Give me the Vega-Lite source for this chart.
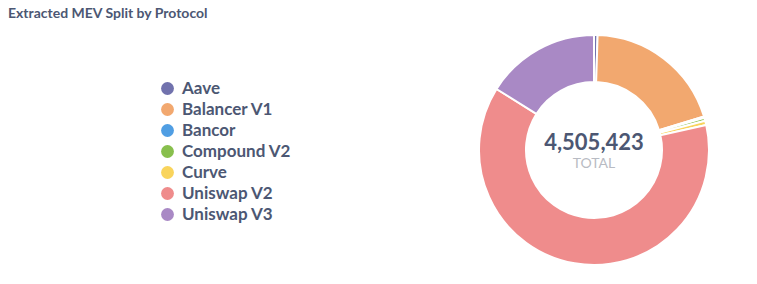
{
  "$schema": "https://vega.github.io/schema/vega-lite/v6.json",
  "width": 326,
  "height": 240,
  "autosize": {"type": "none"},
  "padding": {"left": 431, "top": 30, "right": 0, "bottom": 0},
  "background": "white",
  "config": {"view": {"stroke": null}, "font": "Lato"},
  "title": {
    "text": "Extracted MEV Split by Protocol",
    "anchor": "start",
    "frame": "group",
    "dx": -423,
    "offset": 9,
    "fontSize": 14,
    "font": "Lato",
    "fontWeight": "bold",
    "color": "#4C5773"
  },
  "data": {
    "values": [
      {"protocol": "Aave", "value": 22527},
      {"protocol": "Balancer V1", "value": 892074},
      {"protocol": "Bancor", "value": 9000},
      {"protocol": "Compound V2", "value": 18000},
      {"protocol": "Curve", "value": 27000},
      {"protocol": "Uniswap V2", "value": 2811448},
      {"protocol": "Uniswap V3", "value": 725374}
    ]
  },
  "layer": [
    {
      "mark": {"type": "arc", "innerRadius": 68, "outerRadius": 115, "stroke": "white", "strokeWidth": 2},
      "encoding": {
        "theta": {"field": "value", "type": "quantitative", "stack": true},
        "order": {"field": "protocol", "sort": "ascending"},
        "color": {
          "field": "protocol",
          "type": "nominal",
          "scale": {
            "domain": ["Aave", "Balancer V1", "Bancor", "Compound V2", "Curve", "Uniswap V2", "Uniswap V3"],
            "range": ["#7172AD", "#F2A86F", "#509EE3", "#88BF4D", "#F9D45C", "#EF8C8C", "#A989C5"]
          },
          "legend": {
            "orient": "none",
            "legendX": -272,
            "legendY": 50,
            "title": null,
            "labelFontSize": 17,
            "labelFont": "Lato",
            "labelFontWeight": "bold",
            "labelColor": "#4C5773",
            "symbolType": "circle",
            "symbolSize": 165,
            "symbolStrokeWidth": 0,
            "symbolOpacity": 1,
            "rowPadding": 3,
            "labelOffset": 6,
            "padding": 0
          }
        }
      }
    },
    {
      "mark": {"type": "text", "font": "Lato", "fontSize": 22, "fontWeight": "bold", "color": "#4C5773", "baseline": "middle", "align": "center", "dy": -7},
      "encoding": {
        "text": {"aggregate": "sum", "field": "value", "type": "quantitative", "format": ","}
      }
    },
    {
      "data": {"values": [{"label": "TOTAL"}]},
      "mark": {"type": "text", "font": "Lato", "fontSize": 14, "fontWeight": "normal", "color": "#B8BBC3", "baseline": "middle", "align": "center", "dy": 14},
      "encoding": {
        "text": {"field": "label", "type": "nominal"}
      }
    }
  ]
}
